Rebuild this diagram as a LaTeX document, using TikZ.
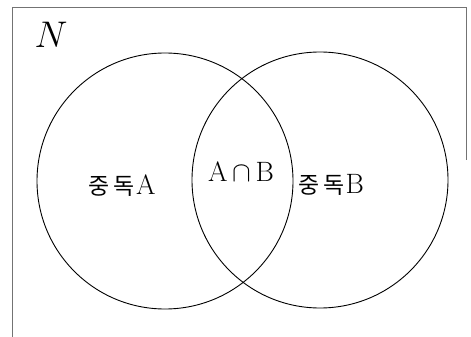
\documentclass[tikz,border=0pt]{standalone}
\usepackage{fontspec}
\newfontfamily\kor{Noto Sans CJK KR}
\begin{document}
\begin{tikzpicture}[x=1pt,y=-1pt,
  setcircle/.style={circle,draw=black,line width=0.9pt,minimum size=256pt,inner sep=0pt},
  frameline/.style={draw=black!55,line width=0.8pt},
  lbl/.style={inner sep=0pt,scale=1.35,font=\fontsize{20.74}{20.74}\selectfont}]
\useasboundingbox (0,0) rectangle (471,337);
% frame
\coordinate (fbl) at (12,337);
\coordinate (ftl) at (12,7);
\coordinate (ftr) at (466,7);
\coordinate (fr) at (466,160);
\draw[frameline] (fbl) -- (ftl) -- (ftr) -- (fr);
% circles
\node[setcircle] (A) at (165,181) {};
\node[setcircle] (B) at (320,180) {};
% labels
\node[inner sep=0pt,scale=1.49,font=\fontsize{24.88}{24.88}\selectfont] (N) at (51,35) {$N$};
\node[lbl] (la) at (122,186) {{\kor\fontsize{17}{17}\selectfont 중\hspace{3pt}독}\hspace{1pt}A};
\node[lbl] (lab) at (241,172) {A$\,\cap\,$B};
\node[lbl] (lb) at (331,185) {{\kor\fontsize{17}{17}\selectfont 중\hspace{3pt}독}\hspace{1pt}B};
\end{tikzpicture}
\end{document}
